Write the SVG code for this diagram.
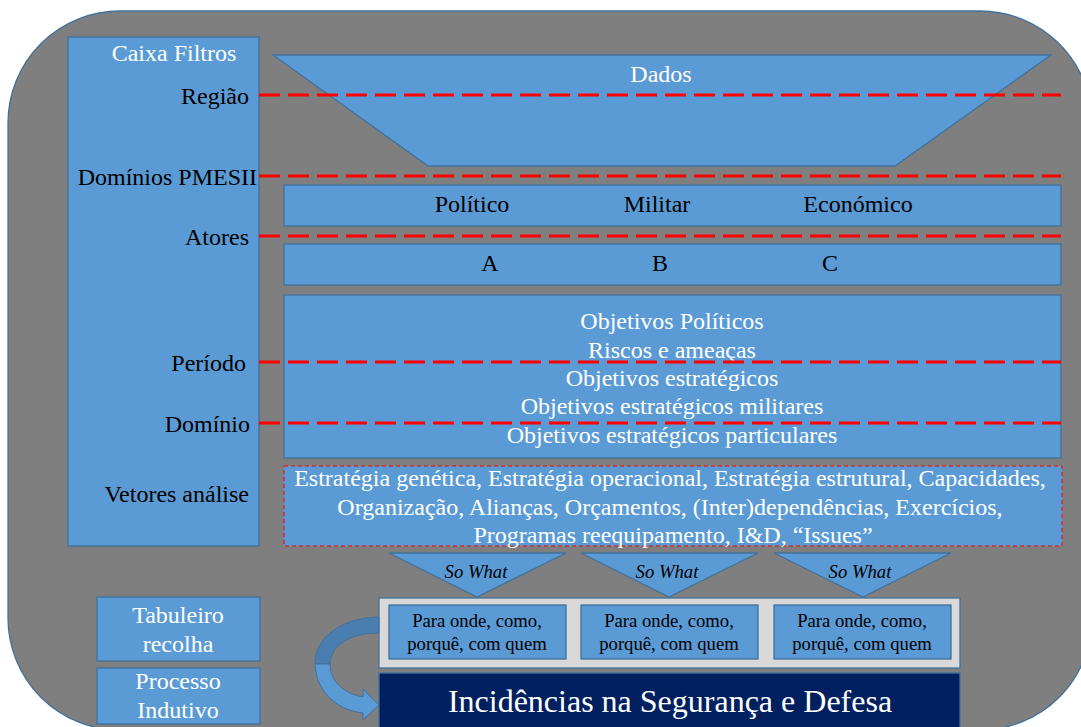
<svg xmlns="http://www.w3.org/2000/svg" width="1081" height="727" viewBox="0 0 1081 727">
<style>
.bx{fill:#5B9BD5;stroke:#41719C;stroke-width:1.3}
.t{font-family:"Liberation Serif","Times New Roman",serif;font-size:24px}
.w{fill:#FFFFFF}
.k{fill:#000000}
.m{text-anchor:middle}
.e{text-anchor:end}
.rd{fill:none;stroke:#FF0000;stroke-width:3;stroke-dasharray:21 8}
.sw{font-family:"Liberation Serif","Times New Roman",serif;font-size:18.7px;font-style:italic;fill:#000;text-anchor:middle}
.pq{font-family:"Liberation Serif","Times New Roman",serif;font-size:18.7px;fill:#000;text-anchor:middle}
</style>
<rect width="1081" height="727" fill="#FFFFFF"/>
<g id="frame">
<rect x="8" y="11" width="1084" height="719" rx="112" ry="112" fill="#7F7F7F" stroke="#41719C" stroke-width="1.3"/>
</g>
<g id="caixa-filtros">
<rect class="bx" x="68" y="37" width="191" height="509"/>
<text class="t w m" x="174" y="61">Caixa Filtros</text>
<text class="t k e" x="249" y="104">Região</text>
<text class="t k e" x="257" y="185">Domínios PMESII</text>
<text class="t k e" x="249" y="245">Atores</text>
<text class="t k e" x="246" y="371">Período</text>
<text class="t k e" x="250" y="432">Domínio</text>
<text class="t k e" x="249" y="502">Vetores análise</text>
</g>
<g id="dados">
<polygon class="bx" points="273,55 1051,55 895,166 428,166"/>
<text class="t w m" x="661" y="82">Dados</text>
</g>
<g id="dominios">
<rect class="bx" x="284" y="185" width="777" height="41"/>
<text class="t k m" x="472" y="212">Político</text>
<text class="t k m" x="657" y="212">Militar</text>
<text class="t k m" x="858" y="212">Económico</text>
</g>
<g id="atores">
<rect class="bx" x="284" y="244" width="777" height="41"/>
<text class="t k m" x="490" y="271">A</text>
<text class="t k m" x="660" y="271">B</text>
<text class="t k m" x="830" y="271">C</text>
</g>
<g id="objetivos">
<rect class="bx" x="284" y="295" width="777" height="163"/>
<text class="t w m" x="672" y="329">Objetivos Políticos</text>
<text class="t w m" x="672" y="358">Riscos e ameaças</text>
<text class="t w m" x="672" y="386">Objetivos estratégicos</text>
<text class="t w m" x="672" y="414">Objetivos estratégicos militares</text>
<text class="t w m" x="672" y="443">Objetivos estratégicos particulares</text>
</g>
<g id="vetores">
<rect x="284" y="466" width="778" height="80" fill="#5B9BD5" stroke="#FF0000" stroke-width="1" stroke-dasharray="4 3"/>
<text class="t w m" x="670" y="486">Estratégia genética, Estratégia operacional, Estratégia estrutural, Capacidades,</text>
<text class="t w m" x="670" y="515">Organização, Alianças, Orçamentos, (Inter)dependências, Exercícios,</text>
<text class="t w m" x="673" y="543">Programas reequipamento, I&amp;D, “Issues”</text>
</g>
<g id="filtros-linhas">
<line class="rd" x1="259" y1="95" x2="1061" y2="95"/>
<line class="rd" x1="259" y1="176" x2="1061" y2="176"/>
<line class="rd" x1="259" y1="236" x2="1061" y2="236"/>
<line class="rd" x1="259" y1="362" x2="1061" y2="362"/>
<line class="rd" x1="259" y1="423" x2="1061" y2="423"/>
</g>
<g id="so-what">
<polygon class="bx" points="389,553 566,553 477,597"/>
<polygon class="bx" points="581,553 758,553 669,597"/>
<polygon class="bx" points="774,553 951,553 863,597"/>
<text class="sw" x="476" y="578">So What</text>
<text class="sw" x="667" y="578">So What</text>
<text class="sw" x="860" y="578">So What</text>
</g>
<g id="perguntas">
<rect x="379" y="598" width="581" height="70" fill="#D9D9D9" stroke="#41719C" stroke-width="1.3"/>
<rect class="bx" x="389" y="605" width="177" height="54"/>
<rect class="bx" x="581" y="605" width="177" height="54"/>
<rect class="bx" x="774" y="605" width="177" height="54"/>
<text class="pq" x="477" y="627">Para onde, como,</text>
<text class="pq" x="477" y="650">porquê, com quem</text>
<text class="pq" x="669" y="627">Para onde, como,</text>
<text class="pq" x="669" y="650">porquê, com quem</text>
<text class="pq" x="862" y="627">Para onde, como,</text>
<text class="pq" x="862" y="650">porquê, com quem</text>
</g>
<g id="incidencias">
<rect x="379" y="673" width="581" height="60" fill="#002060" stroke="#41719C" stroke-width="1.3"/>
<text x="670" y="712" font-family="Liberation Serif, Times New Roman, serif" font-size="32" fill="#FFFFFF" text-anchor="middle">Incidências na Segurança e Defesa</text>
</g>
<g id="tabuleiro">
<rect class="bx" x="97" y="597" width="163" height="64"/>
<text class="t w m" x="178" y="623">Tabuleiro</text>
<text class="t w m" x="178" y="652">recolha</text>
</g>
<g id="processo">
<rect class="bx" x="97" y="668" width="163" height="56"/>
<text class="t w m" x="178" y="689">Processo</text>
<text class="t w m" x="178" y="718">Indutivo</text>
</g>
<g id="connectors">
<path d="M379,617 C340,618 315,638 315,664 L330,664 C331,645 350,633 379,633 Z" fill="#4A7DB0" stroke="#41719C" stroke-width="1"/>
<path d="M315,664 C316,690 335,710 363,713 L363,720 L379,705 L363,689 L363,697 C345,694 330,682 330,664 Z" fill="#5B9BD5" stroke="#41719C" stroke-width="1"/>
</g>
</svg>
